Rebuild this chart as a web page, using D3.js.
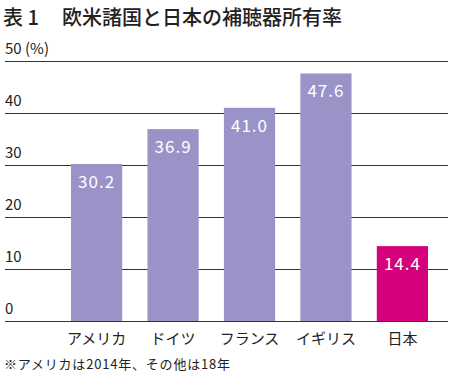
<!DOCTYPE html>
<html>
<head>
<meta charset="utf-8">
<style>
  body { margin: 0; background: #fff; }
  text { font-family: "Noto Sans CJK JP", "Noto Sans", sans-serif; }
</style>
</head>
<body>
<script src="https://cdn.jsdelivr.net/npm/d3@7"></script>
<script>
const countries = ["アメリカ", "ドイツ", "フランス", "イギリス", "日本"];
const rates = [30.2, 36.9, 41.0, 47.6, 14.4];
const ticks = [0, 10, 20, 30, 40, 50];

const W = 450, H = 373;
const svg = d3.select("body").append("svg")
  .attr("width", W).attr("height", H);

const y = d3.scaleLinear().domain([0, 50]).range([321, 61]);
const x = d3.scaleBand().domain(countries).range([58, 441]).paddingInner(0.33).paddingOuter(0.17);

// title
svg.append("text").attr("x", 3).attr("y", 25)
  .style("font-size", "20px").style("font-weight", "500").attr("fill", "#222")
  .text("表 1");
svg.append("text").attr("x", 62).attr("y", 25)
  .style("font-size", "20px").style("font-weight", "500").attr("fill", "#222")
  .text("欧米諸国と日本の補聴器所有率");

// grid + tick labels
const grid = svg.append("g");
grid.selectAll("line").data(ticks).join("line")
  .attr("x1", 5).attr("x2", 448)
  .attr("y1", d => Math.round(y(d)) + 0.5).attr("y2", d => Math.round(y(d)) + 0.5)
  .attr("stroke", "#333").attr("stroke-width", 1);
grid.selectAll("text").data(ticks).join("text")
  .attr("x", 5).attr("y", d => y(d) - 7)
  .style("font-size", "15px").attr("fill", "#222")
  .text(d => d === 50 ? "50 (%)" : d);

// bars
svg.selectAll(".bar").data(rates).join("rect")
  .attr("class", "bar")
  .attr("x", (d, i) => x(countries[i]))
  .attr("width", x.bandwidth())
  .attr("y", d => y(d))
  .attr("height", d => y(0) - y(d))
  .attr("fill", (d, i) => countries[i] === "日本" ? "#d5007b" : "#9a93c8");

// value labels
svg.selectAll(".val").data(rates).join("text")
  .attr("class", "val")
  .attr("x", (d, i) => x(countries[i]) + x.bandwidth() / 2)
  .attr("y", d => y(d) + 24)
  .attr("text-anchor", "middle")
  .style("font-size", "17px").style("letter-spacing", "1px")
  .attr("fill", "#fff")
  .text(d => d.toFixed(1));

// category labels
svg.selectAll(".cat").data(countries).join("text")
  .attr("class", "cat")
  .attr("x", d => x(d) + x.bandwidth() / 2)
  .attr("y", 344)
  .attr("text-anchor", "middle")
  .style("font-size", "15px").attr("fill", "#222")
  .text(d => d);

// footnote
svg.append("text").attr("x", 4).attr("y", 369)
  .style("font-size", "13px").style("letter-spacing", "0.8px").attr("fill", "#222")
  .text("※アメリカは2014年、その他は18年");
</script>
</body>
</html>
